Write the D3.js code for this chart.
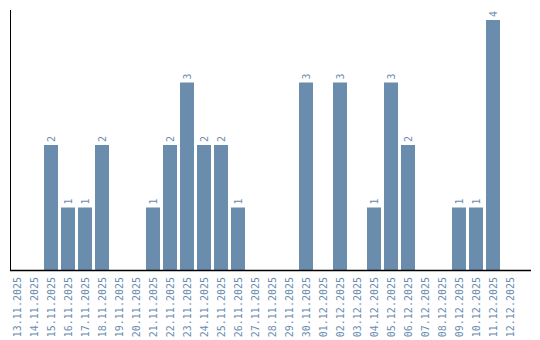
<!DOCTYPE html>
<html>
<head>
<meta charset="utf-8">
<script src="https://cdn.jsdelivr.net/npm/d3@7"></script>
<style>
  body { margin: 0; background: #fff; }
  text { font-family: "DejaVu Sans Mono", monospace; font-size: 10px; fill: #6a8caf; }
</style>
</head>
<body>
<div id="chart"></div>
<script>
const dates = [
    '13.11.2025', '14.11.2025', '15.11.2025', '16.11.2025', '17.11.2025', '18.11.2025',
    '19.11.2025', '20.11.2025', '21.11.2025', '22.11.2025', '23.11.2025', '24.11.2025',
    '25.11.2025', '26.11.2025', '27.11.2025', '28.11.2025', '29.11.2025', '30.11.2025',
    '01.12.2025', '02.12.2025', '03.12.2025', '04.12.2025', '05.12.2025', '06.12.2025',
    '07.12.2025', '08.12.2025', '09.12.2025', '10.12.2025', '11.12.2025', '12.12.2025'
];
const counts = [0, 0, 2, 1, 1, 2, 0, 0, 1, 2, 3, 2, 2, 1, 0, 0, 0, 3, 0, 3, 0, 1, 3, 2, 0, 0, 1, 1, 4, 0];

const size = { w: 540, h: 340 };
const margin = { top: 10, right: 9, bottom: 70, left: 10 };
const height = size.h - margin.top - margin.bottom;
const step = 17;
const gap = 3;

const data = dates.map((d, i) => ({ date: d, value: counts[i] }));

const x = d3.scaleBand()
    .domain(dates)
    .range([0, step * dates.length - gap])
    .paddingInner(gap / step)
    .paddingOuter(0);
const y = d3.scaleLinear()
    .domain([0, d3.max(counts) * 1.04])
    .range([height, 0]);

const svg = d3.select('#chart').append('svg')
    .attr('width', size.w)
    .attr('height', size.h);
const g = svg.append('g').attr('transform', `translate(${margin.left}, ${margin.top})`);

g.selectAll('.bar')
    .data(data.filter(d => d.value > 0))
    .enter().append('rect')
    .attr('class', 'bar')
    .attr('x', d => x(d.date))
    .attr('y', d => y(d.value))
    .attr('width', x.bandwidth())
    .attr('height', d => height - y(d.value))
    .attr('fill', '#6a8cad');

// value labels, rotated like the dates
g.selectAll('.val')
    .data(data.filter(d => d.value > 0))
    .enter().append('text')
    .attr('class', 'val')
    .attr('transform', d => `translate(${x(d.date) + x.bandwidth() / 2}, ${y(d.value) - 3}) rotate(-90)`)
    .attr('dy', '0.35em')
    .attr('text-anchor', 'start')
    .text(d => d.value);

// x axis: line + rotated date labels
const xAxis = g.append('g')
    .attr('class', 'axis axis-x')
    .attr('transform', `translate(0, ${height})`)
    .call(d3.axisBottom(x).tickSize(0).tickPadding(0));
xAxis.select('.domain').remove();
xAxis.append('line')
    .attr('x1', 0).attr('x2', size.w - margin.left - margin.right)
    .attr('y1', 0.5).attr('y2', 0.5)
    .attr('stroke', '#000').attr('stroke-width', 1.5);
xAxis.selectAll('.tick text')
    .attr('transform', 'translate(0.5, 7) rotate(-90)')
    .attr('dy', '0.35em')
    .attr('x', 0).attr('y', 0)
    .attr('text-anchor', 'end')
    .attr('font-size', null)
    .attr('font-family', null)
    .attr('fill', null);

// y axis line only
g.append('line')
    .attr('x1', 0.5).attr('x2', 0.5)
    .attr('y1', 0).attr('y2', height)
    .attr('stroke', '#000');
</script>
</body>
</html>
